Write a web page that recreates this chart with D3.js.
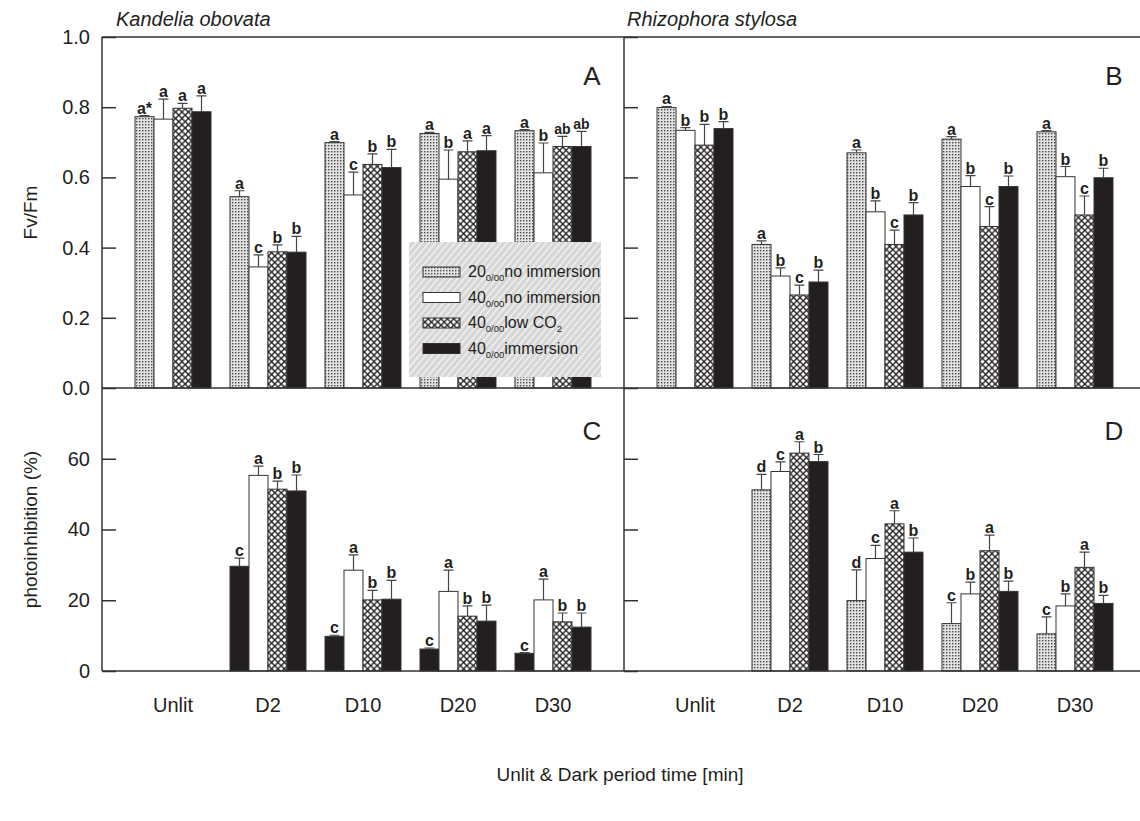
<!DOCTYPE html>
<html>
<head>
<meta charset="utf-8">
<script src="https://cdn.jsdelivr.net/npm/d3@7"></script>
<style>
  body { margin: 0; background: #fff; }
  text { font-family: "Liberation Sans", Arial, sans-serif; fill: #231f20; }
</style>
</head>
<body>
<div id="chart"></div>
<script>

// Categories and series
const categories = ["Unlit", "D2", "D10", "D20", "D30"];
const seriesKeys = ["s20no", "s40no", "s40low", "s40imm"];

// Kandelia obovata - Fv/Fm (one array per series, Unlit..D30)
const kandFv = [
  [0.773, 0.545, 0.699, 0.725, 0.733],
  [0.766, 0.345, 0.550, 0.595, 0.613],
  [0.797, 0.388, 0.637, 0.673, 0.688],
  [0.787, 0.387, 0.628, 0.676, 0.688]
];
const kandFvErr = [
  [0.003, 0.017, 0.003, 0.003, 0.003],
  [0.057, 0.034, 0.065, 0.083, 0.085],
  [0.014, 0.020, 0.030, 0.031, 0.029],
  [0.045, 0.045, 0.052, 0.043, 0.043]
];
const kandFvLetters = [
  ["a*", "a", "a", "a", "a"],
  ["a", "c", "c", "b", "b"],
  ["a", "b", "b", "a", "ab"],
  ["a", "b", "b", "a", "ab"]
];

// Rhizophora stylosa - Fv/Fm
const rhizFv = [
  [0.799, 0.409, 0.670, 0.709, 0.730],
  [0.734, 0.319, 0.502, 0.574, 0.602],
  [0.692, 0.265, 0.409, 0.460, 0.493],
  [0.739, 0.302, 0.493, 0.574, 0.599]
];
const rhizFvErr = [
  [0.003, 0.010, 0.008, 0.007, 0.003],
  [0.008, 0.023, 0.031, 0.031, 0.029],
  [0.059, 0.028, 0.041, 0.057, 0.054],
  [0.020, 0.034, 0.035, 0.030, 0.027]
];
const rhizFvLetters = [
  ["a", "a", "a", "a", "a"],
  ["b", "b", "b", "b", "b"],
  ["b", "c", "c", "c", "c"],
  ["b", "b", "b", "b", "b"]
];

// Kandelia obovata - photoinhibition (%)
const kandPi = [
  [null, 29.6, 9.8, 6.2, 5.0],
  [null, 55.3, 28.5, 22.5, 20.1],
  [null, 51.4, 20.1, 15.5, 13.9],
  [null, 50.9, 20.3, 14.1, 12.4]
];
const kandPiErr = [
  [0, 2.3, 0.3, 0.3, 0.2],
  [0, 2.6, 4.3, 6.0, 5.9],
  [0, 2.3, 2.7, 2.9, 2.5],
  [0, 4.5, 5.3, 4.5, 4.0]
];
const kandPiLetters = [
  ["", "c", "c", "c", "c"],
  ["", "a", "a", "a", "a"],
  ["", "b", "b", "b", "b"],
  ["", "b", "b", "b", "b"]
];

// Rhizophora stylosa - photoinhibition (%)
const rhizPi = [
  [null, 51.2, 19.9, 13.4, 10.5],
  [null, 56.4, 31.8, 21.8, 18.4],
  [null, 61.6, 41.6, 34.0, 29.3],
  [null, 59.2, 33.6, 22.5, 19.1]
];
const rhizPiErr = [
  [0, 4.4, 8.7, 5.9, 4.8],
  [0, 2.7, 3.7, 3.3, 3.4],
  [0, 3.2, 3.7, 4.4, 4.3],
  [0, 2.0, 4.0, 2.9, 2.3]
];
const rhizPiLetters = [
  ["", "d", "d", "c", "c"],
  ["", "c", "c", "b", "b"],
  ["", "a", "a", "a", "a"],
  ["", "b", "b", "b", "b"]
];

// Tick values
const fvTicks = [0, 0.2, 0.4, 0.6, 0.8, 1.0];
const piTicks = [0, 20, 40, 60];

// dimensions
const width = 1140;
const height = 821;
const leftX = [102, 624];
const topY = 37, midY = 388, botY = 671;

const svg = d3.select("#chart")
  .append("svg")
  .attr("width", width)
  .attr("height", height);

/*
  Patterns
*/
const defs = svg.append("defs");

// fine stipple for 20 0/00 no immersion
const stip = defs.append("pattern")
  .attr("id", "stipple")
  .attr("patternUnits", "userSpaceOnUse")
  .attr("width", 3).attr("height", 3);
stip.append("rect").attr("width", 3).attr("height", 3).attr("fill", "#e2e2e2");
stip.append("rect").attr("x", 1).attr("y", 1).attr("width", 1.4).attr("height", 1.4).attr("fill", "#4a4a4a");

// diamond cross hatch for low CO2
const cross = defs.append("pattern")
  .attr("id", "cross")
  .attr("patternUnits", "userSpaceOnUse")
  .attr("width", 6.4).attr("height", 6.4);
cross.append("rect").attr("width", 6.4).attr("height", 6.4).attr("fill", "#fff");
cross.append("path")
  .attr("d", "M0,0L6.4,6.4M6.4,0L0,6.4")
  .attr("stroke", "#231f20").attr("stroke-width", 1.4);

// legend background hatching
const hatch = defs.append("pattern")
  .attr("id", "hatch")
  .attr("patternUnits", "userSpaceOnUse")
  .attr("width", 5).attr("height", 5)
  .attr("patternTransform", "rotate(40)");
hatch.append("rect").attr("width", 5).attr("height", 5).attr("fill", "#d6d6d6");
hatch.append("rect").attr("width", 1.4).attr("height", 5).attr("fill", "#f4f4f4");

const fillsNormal = ["url(#stipple)", "#fff", "url(#cross)", "#231f20"];
const fillsC = ["#231f20", "#fff", "url(#cross)", "#231f20"];

/*
  Scales
*/
const yFv = d3.scaleLinear().domain([0, 1]).range([midY, topY]);
const yPi = d3.scaleLinear().domain([0, 80]).range([botY, midY]);

// groups inside a panel
const xGroup = d3.scaleBand()
  .domain(categories)
  .range([33, 489])
  .paddingInner(0.2)
  .paddingOuter(0);

const xSeries = d3.scaleBand()
  .domain(seriesKeys)
  .range([0, xGroup.bandwidth()]);

/*
  Bars
*/
function drawBars(x0, yScale, values, errs, letters, fills) {
  const g = svg.append("g").attr("transform", `translate(${x0},0)`);
  const rows = [];
  values.forEach((arr, s) => {
    arr.forEach((v, c) => {
      if (v === null) return;
      rows.push({s: s, c: c, v: v, e: errs[s][c], lab: letters[s][c]});
    });
  });
  const bw = xSeries.bandwidth();
  const cx = d => xGroup(categories[d.c]) + xSeries(seriesKeys[d.s]) + bw / 2;

  g.selectAll(".bar")
    .data(rows)
    .enter()
    .append("rect")
      .attr("class", "bar")
      .attr("x", d => xGroup(categories[d.c]) + xSeries(seriesKeys[d.s]))
      .attr("y", d => yScale(d.v))
      .attr("width", bw)
      .attr("height", d => yScale(0) - yScale(d.v))
      .attr("fill", d => fills[d.s])
      .attr("stroke", "#333")
      .attr("stroke-width", 1);

  // error bars, upper half only
  g.selectAll(".err")
    .data(rows)
    .enter()
    .append("path")
      .attr("class", "err")
      .attr("d", d => {
        const x = cx(d), y1 = yScale(d.v), y2 = yScale(d.v + d.e);
        return `M${x},${y1}V${y2}M${x - 5},${y2}H${x + 5}`;
      })
      .attr("fill", "none")
      .attr("stroke", "#444")
      .attr("stroke-width", 1.2);

  g.selectAll(".lab")
    .data(rows)
    .enter()
    .append("text")
      .attr("class", "lab")
      .attr("x", d => cx(d))
      .attr("y", d => yScale(d.v + d.e) - 2)
      .attr("text-anchor", "middle")
      .attr("font-size", d => d.lab.length > 1 && d.lab !== "a*" ? "14px" : "16px")
      .attr("font-weight", "bold")
      .text(d => d.lab);
}

drawBars(leftX[0], yFv, kandFv, kandFvErr, kandFvLetters, fillsNormal);
drawBars(leftX[1], yFv, rhizFv, rhizFvErr, rhizFvLetters, fillsNormal);
drawBars(leftX[0], yPi, kandPi, kandPiErr, kandPiLetters, fillsC);
drawBars(leftX[1], yPi, rhizPi, rhizPiErr, rhizPiLetters, fillsNormal);

/*
  Axes
*/
// left axis with labels
svg.append("g")
  .attr("transform", `translate(${leftX[0]},0)`)
  .call(d3.axisLeft(yFv).tickValues(fvTicks).tickSize(-14).tickPadding(12).tickFormat(d3.format(".1f")))
  .call(g => g.select(".domain").remove());
svg.append("g")
  .attr("transform", `translate(${leftX[0]},0)`)
  .call(d3.axisLeft(yPi).tickValues(piTicks).tickSize(-14).tickPadding(12))
  .call(g => g.select(".domain").remove());

// inner ticks on the right panel's left edge
svg.append("g")
  .attr("transform", `translate(${leftX[1]},0)`)
  .call(d3.axisLeft(yFv).tickValues(fvTicks).tickSize(-14).tickFormat(""))
  .call(g => g.select(".domain").remove());
svg.append("g")
  .attr("transform", `translate(${leftX[1]},0)`)
  .call(d3.axisLeft(yPi).tickValues(piTicks).tickSize(-14).tickFormat(""))
  .call(g => g.select(".domain").remove());

svg.selectAll(".tick line").attr("stroke", "#333").attr("stroke-width", 1.5);
svg.selectAll(".tick text").attr("font-size", "20px").attr("fill", "#231f20")
  .attr("font-family", "'Liberation Sans', Arial, sans-serif");

// x axes, labels only
leftX.forEach(x0 => {
  svg.append("g")
    .attr("transform", `translate(${x0},${botY})`)
    .call(d3.axisBottom(xGroup).tickSize(0).tickPadding(27))
    .call(g => g.select(".domain").remove())
    .selectAll("text")
      .attr("font-size", "20px")
      .attr("fill", "#231f20")
      .attr("font-family", "'Liberation Sans', Arial, sans-serif");
});

// frame lines
const frame = svg.append("g").attr("stroke", "#333").attr("stroke-width", 1.5);
[topY, midY, botY].forEach(y => {
  frame.append("line").attr("x1", leftX[0]).attr("x2", width).attr("y1", y).attr("y2", y);
});
leftX.forEach(x => {
  frame.append("line").attr("x1", x).attr("x2", x).attr("y1", topY).attr("y2", botY);
});

/*
  Legend
*/
const legendItems = [
  {num: "20", rest: "no immersion"},
  {num: "40", rest: "no immersion"},
  {num: "40", rest: "low CO", sub2: true},
  {num: "40", rest: "immersion"}
];
const legend = svg.append("g").attr("transform", "translate(409,242)");
legend.append("rect")
  .attr("width", 192).attr("height", 135)
  .attr("fill", "url(#hatch)");

legendItems.forEach((d, i) => {
  const y = 30 + i * 25.5;
  legend.append("rect")
    .attr("x", 14).attr("y", y - 5)
    .attr("width", 37).attr("height", 10)
    .attr("fill", fillsNormal[i])
    .attr("stroke", "#333").attr("stroke-width", 1);
  const t = legend.append("text")
    .attr("x", 59).attr("y", y + 5)
    .attr("font-size", "16px");
  t.append("tspan").text(d.num);
  t.append("tspan").attr("font-size", "9.5px").attr("dy", 4).text("0/00");
  t.append("tspan").attr("dy", -4).text(d.rest);
  if (d.sub2) {
    t.append("tspan").attr("font-size", "9.5px").attr("dy", 4).text("2");
  }
});

/*
  Titles and panel letters
*/
svg.append("text")
  .attr("x", 116).attr("y", 26)
  .attr("font-size", "20px").attr("font-style", "italic")
  .text("Kandelia obovata");
svg.append("text")
  .attr("x", 627).attr("y", 26)
  .attr("font-size", "20px").attr("font-style", "italic")
  .text("Rhizophora stylosa");

const letters = [
  {t: "A", x: leftX[0] + 490, y: 85},
  {t: "B", x: leftX[1] + 490, y: 85},
  {t: "C", x: leftX[0] + 490, y: 440},
  {t: "D", x: leftX[1] + 490, y: 440}
];
svg.selectAll(".panel-letter")
  .data(letters)
  .enter()
  .append("text")
    .attr("class", "panel-letter")
    .attr("x", d => d.x).attr("y", d => d.y)
    .attr("text-anchor", "middle")
    .attr("font-size", "26px")
    .text(d => d.t);

// axis titles
svg.append("text")
  .attr("transform", `translate(37,${(topY + midY) / 2}) rotate(-90)`)
  .attr("text-anchor", "middle")
  .attr("font-size", "19px")
  .text("Fv/Fm");
svg.append("text")
  .attr("transform", `translate(37,${(midY + botY) / 2}) rotate(-90)`)
  .attr("text-anchor", "middle")
  .attr("font-size", "19px")
  .text("photoinhibition (%)");
svg.append("text")
  .attr("x", 620).attr("y", 781)
  .attr("text-anchor", "middle")
  .attr("font-size", "19px")
  .text("Unlit & Dark period time [min]");

</script>
</body>
</html>
